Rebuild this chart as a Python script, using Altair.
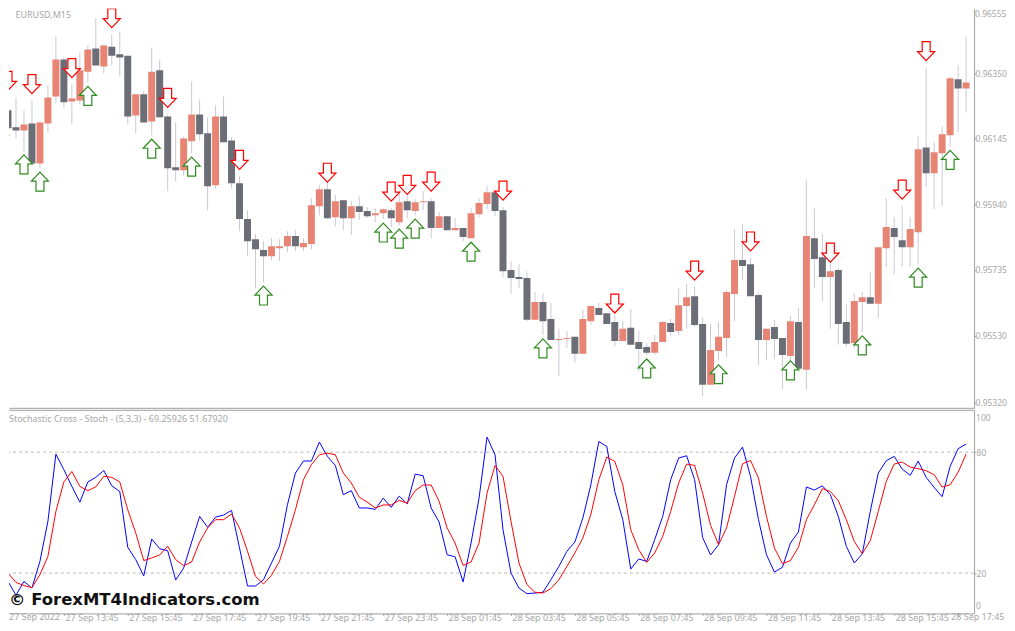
import altair as alt
import pandas as pd

bars = list(range(-1, 121))
opens = [96312,96234,96181,96171,96193,96068,96193,96277,96393,96262,96265,96355,96427,96371,96433,96409,96405,96218,96284,96199,96359,
96215,96056,96047,96137,96221,96162,96000,96215,96140,96006,95894,95831,95797,95778,95803,95809,95841,95806,95816,95934,
95987,95900,95953,95897,95934,95919,95906,95912,95922,95884,95950,95919,95947,95950,95866,95903,95859,95866,95834,95909,
95941,95978,95922,95735,95713,95710,95579,95635,95582,95516,95519,95526,95473,95575,95616,95600,95572,95513,95554,95510,
95494,95476,95510,95569,95544,95622,95653,95566,95376,95482,95522,95660,95766,95753,95657,95516,95557,95522,95466,95572,
95423,95834,95775,95713,95735,95572,95507,95635,95650,95629,95803,95866,95828,95806,95853,96118,96037,96100,96156,96331,96302]
closes = [96231,96178,96171,96190,96068,96196,96274,96393,96259,96271,96359,96424,96374,96437,96405,96399,96215,96284,96196,96355,96212,
96053,96047,96146,96221,96159,95997,96215,96134,96006,95894,95825,95800,95778,95809,95809,95841,95809,95819,95937,95987,
95897,95950,95897,95934,95916,95903,95912,95925,95897,95947,95922,95947,95950,95866,95903,95859,95866,95838,95912,95944,
95978,95919,95731,95710,95707,95579,95635,95575,95516,95519,95522,95473,95582,95622,95594,95566,95513,95551,95501,95488,
95476,95510,95572,95541,95625,95650,95563,95376,95485,95526,95666,95766,95747,95653,95516,95551,95519,95469,95575,95426,
95841,95769,95713,95731,95566,95504,95638,95650,95629,95806,95869,95838,95806,95863,96112,96037,96103,96159,96334,96302,96321]
highs = [96327,96274,96274,96234,96265,96199,96312,96465,96399,96315,96415,96437,96521,96440,96471,96480,96405,96284,96293,96430,96393,
96221,96196,96153,96324,96268,96212,96249,96277,96150,96028,95922,95847,95825,95834,95831,95856,95859,95834,95959,96000,
96015,95969,95953,95950,95965,95931,95928,95928,95928,95975,95969,95956,95981,95959,95916,95903,95897,95866,95928,95959,
95997,95978,95931,95763,95753,95731,95666,95663,95632,95551,95544,95526,95610,95622,95632,95600,95594,95575,95613,95544,
95507,95532,95575,95582,95678,95691,95682,95588,95566,95572,95672,95863,95878,95772,95663,95551,95579,95522,95591,95616,
96015,95928,95847,95788,95741,95629,95663,95666,95728,95806,95959,95900,95934,95900,96153,96368,96134,96184,96340,96374,96465]
lows = [96209,96146,96146,96106,96068,96053,96165,96256,96243,96190,96253,96321,96374,96349,96374,96340,96190,96162,96196,96156,96212,
95981,96012,96031,96100,96140,95922,95990,96134,95990,95856,95778,95678,95697,95766,95763,95791,95794,95794,95800,95906,
95894,95872,95859,95844,95891,95897,95884,95894,95869,95875,95897,95906,95922,95834,95866,95859,95859,95825,95834,95900,
95925,95903,95713,95660,95678,95575,95579,95532,95516,95404,95491,95444,95473,95563,95594,95566,95497,95513,95501,95419,
95469,95469,95510,95529,95532,95551,95557,95341,95376,95451,95463,95575,95703,95653,95438,95454,95457,95363,95451,95426,
95360,95678,95638,95551,95501,95494,95491,95541,95629,95585,95744,95722,95747,95744,95753,95994,95925,95934,96121,96165,96228]

sell_bars = [0,3,8,13,20,29,40,48,50,53,62,76,86,93,103,112,115]
sell_levels = [96326,96316,96366,96522,96273,96079,96039,95980,96001,96011,95983,95630,95733,95824,95789,95986,96419]
buy_bars = [-1,2,4,10,18,23,32,47,49,51,58,67,80,89,98,107,114,118]
buy_levels = [96156,96065,96011,96279,96114,96058,95655,95852,95833,95864,95792,95490,95427,95409,95421,95499,95711,96079]

stoch_k = [22.5,15.9,9.0,15.9,12.6,25.8,45.7,79.0,71.3,63.0,55.2,65.2,67.5,70.9,63.3,60.5,32.8,26.7,18.6,36.9,32.1,
31.1,16.6,22.5,35.4,48.1,42.7,47.8,48.8,51.1,32.4,13.6,13.6,16.7,25.0,33.3,53.9,69.6,75.6,75.6,85.0,
77.9,73.4,58.9,60.9,52.3,52.3,51.6,57.2,52.6,58.2,54.3,69.1,68.3,52.3,45.3,29.1,28.1,15.6,34.9,57.2,
87.5,78.7,41.5,20.0,12.6,9.8,10.1,10.5,16.7,23.3,30.8,35.4,47.3,63.8,85.3,82.8,60.5,46.5,22.0,27.0,
25.8,36.6,48.1,66.3,77.1,78.2,66.3,37.7,29.0,34.1,63.8,77.1,82.5,68.0,46.5,29.1,20.5,22.9,34.9,40.4,
62.7,61.2,63.3,58.9,48.1,33.3,25.0,29.5,50.6,69.6,75.7,77.9,71.6,68.5,75.6,67.5,62.5,57.9,72.9,81.7,84.0]
stoch_d = [22.2,20.0,15.4,13.8,12.8,19.2,28.3,50.6,65.2,70.4,63.0,60.9,62.8,68.0,67.5,65.2,51.4,39.9,26.2,27.5,29.0,
33.3,26.7,23.7,25.5,35.4,42.4,46.5,46.5,49.3,42.4,30.8,18.4,14.6,18.9,25.8,38.2,51.4,66.3,73.8,78.7,
79.5,78.7,69.6,64.7,57.6,55.2,52.3,53.8,53.8,56.1,54.7,60.9,63.7,63.7,55.6,42.4,34.9,23.8,25.5,34.9,
59.7,73.4,68.0,45.7,25.0,14.3,10.5,10.1,12.3,16.7,23.3,30.0,37.4,49.0,66.3,77.6,75.4,63.8,41.5,31.6,
25.3,30.0,38.2,50.6,64.7,74.1,73.4,59.7,43.7,34.1,42.4,58.1,74.2,75.9,67.1,48.1,32.4,24.7,26.2,32.8,
46.5,53.9,61.9,60.5,55.9,46.5,35.7,29.6,36.1,50.6,65.5,74.1,75.1,72.6,71.8,70.8,68.8,62.7,63.8,70.0,79.0]

price_ticks = [0.96450,0.96350,0.96245,0.96145,0.96040,0.95940,0.95835,0.95735,0.95630,0.95530,0.95425,0.95320]
date_ticks = [7,15,23,31,39,47,55,63,71,79,87,95,103,111,119]
date_labels = ["27 Sep 13:45","27 Sep 15:45","27 Sep 17:45","27 Sep 19:45","27 Sep 21:45","27 Sep 23:45",
               "28 Sep 01:45","28 Sep 03:45","28 Sep 05:45","28 Sep 07:45","28 Sep 09:45","28 Sep 11:45",
               "28 Sep 13:45","28 Sep 15:45",""]
levels = [20, 80]

FONT = "Noto Sans"
SIZE = 9
PSIZE = 8.5
GREY = "#a6a6a6"
AXIS = "#a0a0a0"
X_DOMAIN = [0.125, 121]
Y_DOMAIN = [0.95304, 0.96552]
DOWN_ARROW = "M-0.42,-1L0.42,-1L0.42,0.05L0.9,0.05L0,1L-0.9,0.05L-0.42,0.05Z"
UP_ARROW = "M-0.42,1L0.42,1L0.42,-0.05L0.9,-0.05L0,-1L-0.9,-0.05L-0.42,-0.05Z"

candles = pd.DataFrame({
    "bar": bars,
    "open": [v / 1e5 for v in opens],
    "close": [v / 1e5 for v in closes],
    "high": [v / 1e5 for v in highs],
    "low": [v / 1e5 for v in lows],
})
candles["dir"] = ["up" if c >= o else "down" for o, c in zip(opens, closes)]
sells = pd.DataFrame({"bar": sell_bars, "level": [v / 1e5 for v in sell_levels]})
buys = pd.DataFrame({"bar": buy_bars, "level": [v / 1e5 for v in buy_levels]})

x_scale = alt.Scale(domain=X_DOMAIN, nice=False, zero=False, padding=0)
x_price = alt.X("bar:Q", scale=x_scale,
                axis=alt.Axis(title=None, labels=False, ticks=False, grid=False, domain=True,
                              domainColor=AXIS, domainWidth=1))
y_axis = alt.Axis(title=None, orient="right", values=price_ticks, format=".5f", grid=False,
                  labelFont=FONT, labelFontSize=PSIZE, labelColor=GREY, tickColor=AXIS, tickSize=2,
                  labelPadding=-1, domainColor=AXIS, domainWidth=1)
y_scale = alt.Scale(domain=Y_DOMAIN, nice=False, zero=False, padding=0)

wicks = alt.Chart(candles).mark_rule(color="#c9c9d6", strokeWidth=1, clip=True).encode(
    x=x_price,
    y=alt.Y("low:Q", scale=y_scale, axis=y_axis),
    y2="high:Q",
)
bodies = alt.Chart(candles).mark_bar(size=7, clip=True).encode(
    x=alt.X("bar:Q", scale=x_scale),
    y=alt.Y("open:Q", scale=y_scale),
    y2="close:Q",
    color=alt.Color("dir:N", legend=None,
                    scale=alt.Scale(domain=["up", "down"], range=["#e88474", "#6b6e76"])),
)
sell_marks = alt.Chart(sells).mark_point(shape=DOWN_ARROW, size=361, filled=True, fill="white",
                                         stroke="#ff0000", strokeWidth=1.2, opacity=1, clip=True).encode(
    x=alt.X("bar:Q", scale=x_scale),
    y=alt.Y("level:Q", scale=y_scale),
)
buy_marks = alt.Chart(buys).mark_point(shape=UP_ARROW, size=361, filled=True, fill="white",
                                       stroke="#2e8b1e", strokeWidth=1.2, opacity=1, clip=True).encode(
    x=alt.X("bar:Q", scale=x_scale),
    y=alt.Y("level:Q", scale=y_scale),
)
symbol_label = alt.Chart(pd.DataFrame({"t": ["EURUSD,M15"]})).mark_text(
    font=FONT, fontSize=SIZE, color=GREY, align="left", baseline="top").encode(
    x=alt.value(6.5), y=alt.value(2), text="t:N")
top_price = alt.Chart(pd.DataFrame({"t": ["0.96555"]})).mark_text(
    font=FONT, fontSize=PSIZE, color=GREY, align="left", baseline="top").encode(
    x=alt.value(968), y=alt.value(1), text="t:N")

top_panel = alt.layer(wicks, bodies, sell_marks, buy_marks, symbol_label, top_price).properties(width=967, height=400)

stoch = pd.DataFrame({"bar": bars, "k": stoch_k, "d": stoch_d})
levels_df = pd.DataFrame({"level": levels})
label_map = "{" + ",".join(f"{b}:'{t}'" for b, t in zip(date_ticks, date_labels)) + "}"
x_stoch = alt.X("bar:Q", scale=alt.Scale(domain=X_DOMAIN, nice=False, zero=False),
                axis=alt.Axis(title=None, values=date_ticks, labelExpr=f"{label_map}[datum.value]", grid=False,
                              labelFont=FONT, labelFontSize=SIZE, labelColor=GREY, labelAlign="left",
                              labelPadding=-2, labelOffset=1, tickColor=AXIS, tickSize=2, domainColor=AXIS, domainWidth=1,
                              labelOverlap=False, labelBound=False, labelFlush=False))
y_stoch_scale = alt.Scale(domain=[0, 101], nice=False, zero=False)
y_stoch_axis = alt.Axis(title=None, orient="right", values=levels, grid=False,
                        labelFont=FONT, labelFontSize=PSIZE, labelColor=GREY, tickColor=AXIS, tickSize=2,
                        labelPadding=0, domainColor=AXIS, domainWidth=1)
level_rules = alt.Chart(levels_df).mark_rule(color="#b8b8b8", strokeDash=[3, 3], strokeWidth=1).encode(
    y=alt.Y("level:Q", scale=y_stoch_scale, axis=y_stoch_axis))
k_line = alt.Chart(stoch).mark_line(color="#0000ff", strokeWidth=1, clip=True, interpolate="linear").encode(
    x=x_stoch, y=alt.Y("k:Q", scale=y_stoch_scale))
d_line = alt.Chart(stoch).mark_line(color="#ff0000", strokeWidth=1, clip=True, interpolate="linear").encode(
    x=alt.X("bar:Q", scale=alt.Scale(domain=X_DOMAIN, nice=False, zero=False)),
    y=alt.Y("d:Q", scale=y_stoch_scale))
top_line = alt.Chart(pd.DataFrame({"p": [0]})).mark_rule(color=AXIS, strokeWidth=1).encode(
    y=alt.value(0.5), x=alt.value(0), x2=alt.value(967))
ind_label = alt.Chart(pd.DataFrame({"t": ["Stochastic Cross - Stoch - (5,3,3) -  69.25926 51.67920"]})).mark_text(
    font=FONT, fontSize=SIZE, color=GREY, align="left", baseline="middle").encode(
    x=alt.value(0), y=alt.value(9.5), text="t:N")
max_label = alt.Chart(pd.DataFrame({"t": ["100"]})).mark_text(
    font=FONT, fontSize=PSIZE, color=GREY, align="left", baseline="middle").encode(
    x=alt.value(969), y=alt.value(8), text="t:N")
min_label = alt.Chart(pd.DataFrame({"t": ["0"]})).mark_text(
    font=FONT, fontSize=PSIZE, color=GREY, align="left", baseline="middle").encode(
    x=alt.value(969), y=alt.value(197), text="t:N")
first_date = alt.Chart(pd.DataFrame({"t": ["27 Sep 2022"]})).mark_text(
    font=FONT, fontSize=SIZE, color=GREY, align="left", baseline="top").encode(
    x=alt.value(0), y=alt.value(204), text="t:N")
last_date = alt.Chart(pd.DataFrame({"t": ["28 Sep 17:45"]})).mark_text(
    font=FONT, fontSize=SIZE, color=GREY, align="left", baseline="top").encode(
    x=alt.value(944), y=alt.value(204), text="t:N")
watermark = alt.Chart(pd.DataFrame({"t": ["© ForexMT4Indicators.com"]})).mark_text(
    font="DejaVu Sans", fontWeight="bold", fontSize=16.5, color="#111111", align="left", baseline="middle").encode(
    x=alt.value(0), y=alt.value(191), text="t:N")

bottom_panel = alt.layer(level_rules, k_line, d_line, top_line, ind_label, max_label, min_label,
                         first_date, last_date, watermark).properties(width=967, height=204)

chart = alt.vconcat(top_panel, bottom_panel, spacing=2, bounds="flush").resolve_scale(
    color="independent", x="independent", y="independent"
).properties(padding=0).configure_view(strokeWidth=0, stroke="transparent")

chart.save("out.html", embed_options={"renderer": "svg", "actions": False})
